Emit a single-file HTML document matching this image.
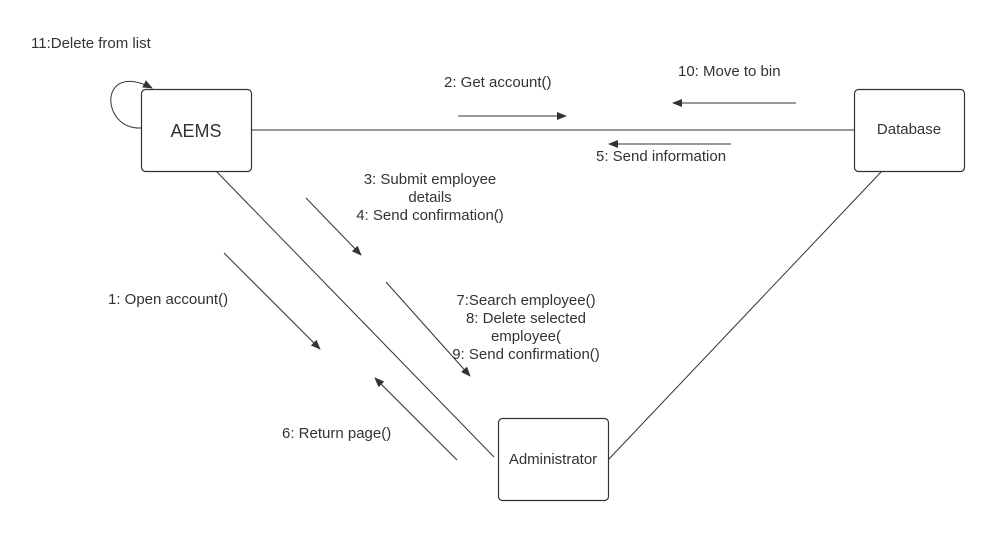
<!DOCTYPE html>
<html><head><style>
body{margin:0;background:#fff;}
svg text{font-family:"Liberation Sans",sans-serif;fill:#333;font-size:15px;}
</style></head><body>
<svg width="1003" height="544" xmlns="http://www.w3.org/2000/svg">
<defs><marker id="a" markerWidth="10" markerHeight="8" refX="9" refY="4" orient="auto" markerUnits="userSpaceOnUse"><path d="M0,0 L10,4 L0,8 Z" fill="#333"/></marker></defs>
<g stroke="#333" stroke-width="1" fill="none">
<line x1="251" y1="130" x2="854" y2="130"/>
<line x1="216" y1="171" x2="494" y2="457"/>
<line x1="882" y1="171" x2="608" y2="460"/>
<path d="M141,128 C100,130 98,60 152,88" marker-end="url(#a)"/>
<line x1="458" y1="116" x2="566" y2="116" marker-end="url(#a)"/>
<line x1="796" y1="103" x2="673" y2="103" marker-end="url(#a)"/>
<line x1="731" y1="144" x2="609" y2="144" marker-end="url(#a)"/>
<line x1="306" y1="198" x2="361" y2="255" marker-end="url(#a)"/>
<line x1="224" y1="253" x2="320" y2="349" marker-end="url(#a)"/>
<line x1="386" y1="282" x2="470" y2="376" marker-end="url(#a)"/>
<line x1="457" y1="460" x2="375" y2="378" marker-end="url(#a)"/>
</g>
<g stroke="#333" stroke-width="1.2" fill="#fff">
<rect x="141.5" y="89.5" width="110" height="82" rx="4"/>
<rect x="854.5" y="89.5" width="110" height="82" rx="4"/>
<rect x="498.5" y="418.5" width="110" height="82" rx="4"/>
</g>
<text x="196" y="137" text-anchor="middle" style="font-size:18px">AEMS</text>
<text x="909" y="134" text-anchor="middle">Database</text>
<text x="553" y="464" text-anchor="middle">Administrator</text>
<text x="31" y="48">11:Delete from list</text>
<text x="444" y="87">2: Get account()</text>
<text x="678" y="76">10: Move to bin</text>
<text x="596" y="161">5: Send information</text>
<text x="430" y="184" text-anchor="middle">3: Submit employee</text>
<text x="430" y="202" text-anchor="middle">details</text>
<text x="430" y="220" text-anchor="middle">4: Send confirmation()</text>
<text x="108" y="304">1: Open account()</text>
<text x="526" y="305" text-anchor="middle">7:Search employee()</text>
<text x="526" y="323" text-anchor="middle">8: Delete selected</text>
<text x="526" y="341" text-anchor="middle">employee(</text>
<text x="526" y="359" text-anchor="middle">9: Send confirmation()</text>
<text x="282" y="438">6: Return page()</text>
</svg>
</body></html>
